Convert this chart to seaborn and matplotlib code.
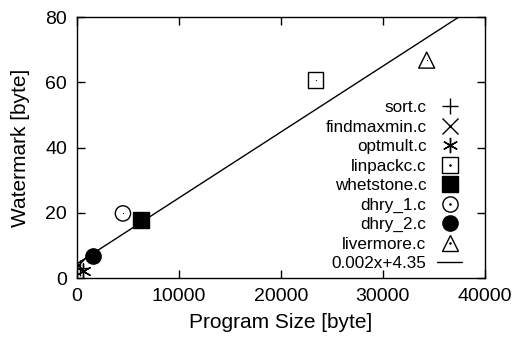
import pandas as pd
import seaborn as sns
import matplotlib.pyplot as plt
from matplotlib.legend_handler import HandlerTuple
from matplotlib.lines import Line2D

# data
files = ["sort.c", "findmaxmin.c", "optmult.c", "linpackc.c", "whetstone.c",
         "dhry_1.c", "dhry_2.c", "livermore.c"]
prog_size = [300, 150, 620, 23400, 6240, 4510, 1600, 34300]
watermark = [3.0, 4.0, 2.2, 60.7, 17.8, 19.8, 6.7, 66.8]
markers = ["+", "x", (6, 2, 0), "s", "s", "o", "o", "^"]
filled = [False, False, False, False, True, False, True, False]
msize = [11.5, 11, 11, 11, 11.5, 11, 11, 11.5]

fit_slope = 0.00202
fit_intercept = 4.35
fit_label = "0.002x+4.35"

sns.set_style("ticks")
plt.rcParams["font.family"] = ["Liberation Sans", "DejaVu Sans"]
plt.rcParams["text.color"] = "black"
plt.rcParams["axes.labelcolor"] = "black"
plt.rcParams["xtick.color"] = "black"
plt.rcParams["ytick.color"] = "black"
plt.rcParams["axes.edgecolor"] = "black"

fig = plt.figure(figsize=(5.13, 3.38), dpi=100)
ax = fig.add_axes([0.150, 0.1775, 0.795, 0.772])

df = pd.DataFrame({"file": files, "size": prog_size, "wm": watermark})

handles = []
for i in range(len(files)):
    m = markers[i]
    fc = "black" if filled[i] else "none"
    sub = df.iloc[[i]]
    s = msize[i] ** 2
    if m in ["+", "x", (6, 2, 0)]:
        sns.scatterplot(data=sub, x="size", y="wm", marker=m, s=s,
                        color="black", linewidth=1.0, ax=ax, legend=False, zorder=3)
        h = Line2D([], [], marker=m, color="black", linestyle="none",
                   markersize=msize[i], markeredgewidth=1.0)
    else:
        sns.scatterplot(data=sub, x="size", y="wm", marker=m, s=s,
                        facecolor=fc, edgecolor="black", linewidth=1.0,
                        ax=ax, legend=False, zorder=3)
        h = Line2D([], [], marker=m, markerfacecolor=fc, markeredgecolor="black",
                   linestyle="none", markersize=msize[i], markeredgewidth=1.0)
        if not filled[i]:
            # gnuplot puts a dot in the middle of the open symbols
            sns.scatterplot(data=sub, x="size", y="wm", marker=".", s=3,
                            color="black", linewidth=0, ax=ax, legend=False, zorder=4)
            dot = Line2D([], [], marker=".", color="black", linestyle="none", markersize=1.7)
            h = (h, dot)
    handles.append(h)

# regression line, clipped at the top of the plot
x_end = (80 - fit_intercept) / fit_slope
line_df = pd.DataFrame({"x": [0, x_end]})
line_df["y"] = fit_slope * line_df["x"] + fit_intercept
sns.lineplot(data=line_df, x="x", y="y", color="black", linewidth=1.0, ax=ax)
handles.append(Line2D([], [], color="black", linewidth=1.0))

ax.set_xlim(0, 40000)
ax.set_ylim(0, 80)
ax.set_xticks([0, 10000, 20000, 30000, 40000])
ax.set_yticks([0, 20, 40, 60, 80])
ax.tick_params(direction="in", length=6, width=1, top=True, right=True,
               labelsize=14, pad=7)
for sp in ax.spines.values():
    sp.set_visible(True)
    sp.set_linewidth(1.0)
ax.set_xlabel("Program Size [byte]", fontsize=15, labelpad=6)
ax.set_ylabel("Watermark [byte]", fontsize=15, labelpad=11)

ax.legend(handles, files + [fit_label], loc="lower right", frameon=False,
          markerfirst=False, fontsize=12.3, handlelength=1.5, handletextpad=0.6,
          labelspacing=0.26, borderaxespad=0, bbox_to_anchor=(0.962, 0.0),
          handler_map={tuple: HandlerTuple(ndivide=1, pad=0)})

fig.savefig("out.png", dpi=100)
